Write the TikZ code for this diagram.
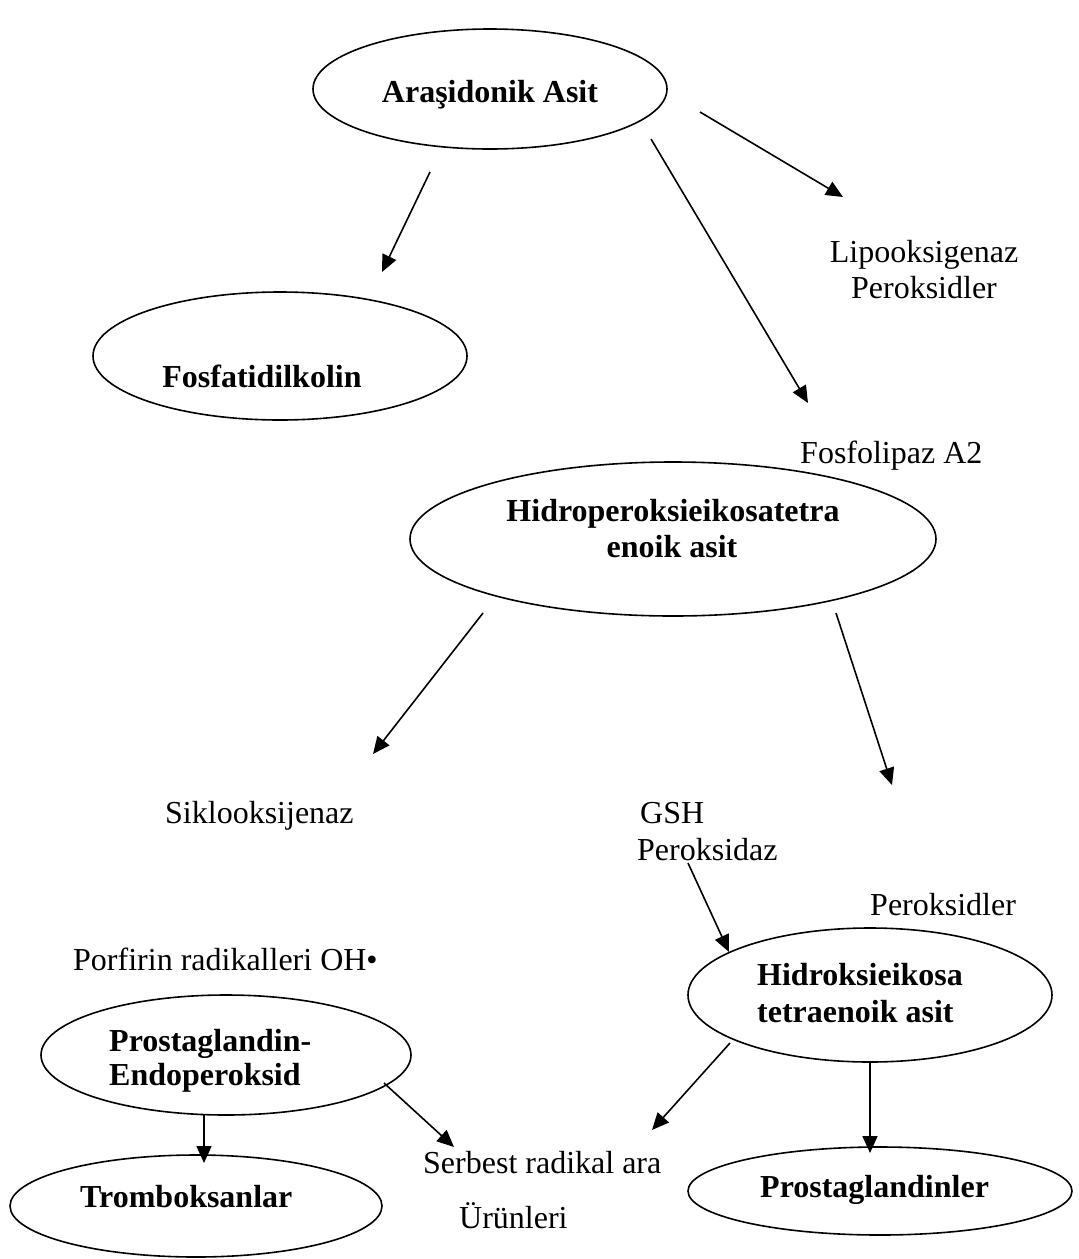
\documentclass[tikz,border=0pt]{standalone}
\usepackage{fontspec}
\setmainfont{Liberation Serif}
\usetikzlibrary{arrows.meta,shapes.geometric}
\begin{document}
\begin{tikzpicture}[x=1pt,y=-1pt,
  oval/.style={draw,line width=1.6pt,ellipse,inner sep=0pt},
  lbl/.style={inner sep=0pt,font=\fontsize{32}{40}\selectfont},
  blbl/.style={inner sep=0pt,font=\fontsize{32}{40}\selectfont\bfseries},
  arr/.style={line width=1.6pt,-{Triangle[length=17pt,width=15pt]}}]
\path[use as bounding box,fill=white] (0,0) rectangle (1079,1259);
% ellipses
\node[oval,minimum width=354pt,minimum height=120pt] (A) at (490,89) {};
\node[oval,minimum width=374pt,minimum height=128pt] (F) at (280,356) {};
\node[oval,minimum width=526pt,minimum height=154pt] (H) at (673,539) {};
\node[oval,minimum width=364pt,minimum height=134pt] (HX) at (870,995) {};
\node[oval,minimum width=370pt,minimum height=120pt] (PE) at (226,1055) {};
\node[oval,minimum width=372pt,minimum height=102pt] (T) at (196,1206) {};
\node[oval,minimum width=384pt,minimum height=88pt] (P) at (880,1191) {};
% bold texts
\node[blbl,anchor=base] (tA) at (490,102) {Araşidonik Asit};
\node[blbl,anchor=base] (tF) at (262,387) {Fosfatidilkolin};
\node[blbl,anchor=base] (tH1) at (673,521) {Hidroperoksieikosatetra};
\node[blbl,anchor=base] (tH2) at (672,557) {enoik asit};
\node[blbl,anchor=base west] (tHX1) at (757,985) {Hidroksieikosa};
\node[blbl,anchor=base west] (tHX2) at (757,1022) {tetraenoik asit};
\node[blbl,anchor=base west] (tPE1) at (109,1051) {Prostaglandin-};
\node[blbl,anchor=base west] (tPE2) at (109,1085) {Endoperoksid};
\node[blbl,anchor=base west] (tT) at (80,1207) {Tromboksanlar};
\node[blbl,anchor=base west] (tP) at (760,1197) {Prostaglandinler};
% plain labels
\node[lbl,anchor=base] (l1) at (924,262) {Lipooksigenaz};
\node[lbl,anchor=base] (l2) at (924,298) {Peroksidler};
\node[lbl,anchor=base west] (l3) at (800,463) {Fosfolipaz A2};
\node[lbl,anchor=base west] (l4) at (165,823) {Siklooksijenaz};
\node[lbl,anchor=base west] (l5) at (640,823) {GSH};
\node[lbl,anchor=base west] (l6) at (637,860) {Peroksidaz};
\node[lbl,anchor=base west] (l7) at (870,915) {Peroksidler};
\node[lbl,anchor=base west] (l8) at (73,970) {Porfirin radikalleri OH•};
\node[lbl,anchor=base west] (l9) at (423,1173) {Serbest radikal ara};
\node[lbl,anchor=base west] (l10) at (459,1228) {Ürünleri};
% arrow end points
\coordinate (a1s) at (430,172); \coordinate (a1e) at (382,272);
\coordinate (a2s) at (651,139); \coordinate (a2e) at (808,403);
\coordinate (a3s) at (700,112); \coordinate (a3e) at (843,197);
\coordinate (a4s) at (483,613); \coordinate (a4e) at (373,754);
\coordinate (a5s) at (836,613); \coordinate (a5e) at (892,785);
\coordinate (a6s) at (688,863); \coordinate (a6e) at (729,952);
\coordinate (a7s) at (730,1043); \coordinate (a7e) at (652,1130);
\coordinate (a8s) at (870,1062); \coordinate (a8e) at (870,1153);
\coordinate (a9s) at (204,1115); \coordinate (a9e) at (204,1163);
\coordinate (a10s) at (384,1083); \coordinate (a10e) at (454,1147);
\draw[arr] (a1s) -- (a1e);
\draw[arr] (a2s) -- (a2e);
\draw[arr] (a3s) -- (a3e);
\draw[arr] (a4s) -- (a4e);
\draw[arr] (a5s) -- (a5e);
\draw[arr] (a6s) -- (a6e);
\draw[arr] (a7s) -- (a7e);
\draw[arr] (a8s) -- (a8e);
\draw[arr] (a9s) -- (a9e);
\draw[arr] (a10s) -- (a10e);
\end{tikzpicture}
\end{document}
